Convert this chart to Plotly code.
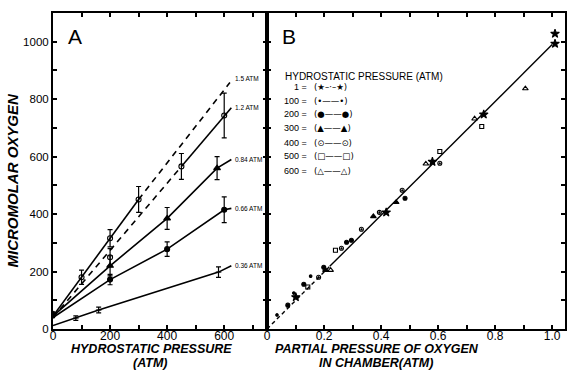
import plotly.graph_objects as go

# ---------------- Panel A data (hydrostatic pressure, atm -> micromolar O2) ----------------
a15_x = [100, 200, 300]; a15_y = [180, 316, 451]; a15_e = [25, 30, 45]
a12_x = [200, 450, 600]; a12_y = [250, 566, 743]; a12_e = [30, 45, 78]
a084_x = [200, 400, 575]; a084_y = [220, 385, 560]; a084_e = [35, 38, 40]
a066_x = [200, 400, 600]; a066_y = [172, 278, 415]; a066_e = [18, 25, 45]
a036_x = [80, 160, 580]; a036_y = [38, 66, 198]; a036_e = [8, 10, 18]
a0_x = [0, 0]; a0_y = [45, 55]

# fitted lines (vertices)
l15s_x = [0, 100, 200, 300]; l15s_y = [45, 180, 316, 451]
l15d_x = [300, 620]; l15d_y = [451, 858]
l12d_x = [0, 450]; l12d_y = [40, 566]
l12s_x = [450, 600, 625]; l12s_y = [566, 743, 770]
l084_x = [0, 200, 400, 575, 625]; l084_y = [45, 220, 385, 560, 590]
l066_x = [0, 200, 400, 600, 625]; l066_y = [40, 172, 278, 415, 420]
l036_x = [0, 80, 160, 580, 625]; l036_y = [12, 38, 66, 198, 220]
line_labels = ["1.5 ATM", "1.2 ATM", "0.84 ATM", "0.66 ATM", "0.36 ATM"]
label_y = [872, 771, 590, 420, 222]

# ---------------- Panel B data (partial pressure O2 in chamber) ----------------
b_star_x = [1.01, 1.01, 0.76, 0.58, 0.418, 0.101]; b_star_y = [1028, 993, 747, 582, 406, 111]
b_dot_x = [0.035, 0.094, 0.153]; b_dot_y = [49, 125, 184]
b_fc_x = [0.073, 0.129, 0.199, 0.279, 0.296, 0.484]; b_fc_y = [83, 156, 215, 302, 309, 455]
b_ft_x = [0.205, 0.373, 0.453]; b_ft_y = [205, 392, 441]
b_oc_x = [0.181, 0.261, 0.331, 0.394, 0.474, 0.606]; b_oc_y = [180, 281, 347, 406, 483, 577]
b_sq_x = [0.143, 0.24, 0.606, 0.753]; b_sq_y = [146, 274, 618, 705]
b_ot_x = [0.223, 0.557, 0.728, 0.906]; b_ot_y = [205, 575, 732, 837]
bl_d_x = [0, 0.22]; bl_d_y = [0, 218]
bl_s_x = [0.22, 1.0]; bl_s_y = [218, 990]

legend_nums = ["1 =", "100 =", "200 =", "300 =", "400 =", "500 =", "600 ="]
legend_syms = ["(★–·–★)", "(•——•)", "(●——●)", "(▲——▲)", "(⊙——⊙)", "(□——□)", "(△——△)"]

K = "black"
fig = go.Figure()

def line(x, y, dash="solid", xa="x", ya="y", w=1.6):
    fig.add_trace(go.Scatter(x=x, y=y, mode="lines", line=dict(color=K, width=w, dash=dash),
                             xaxis=xa, yaxis=ya, showlegend=False, hoverinfo="skip"))

def pts(x, y, sym, size=6, err=None, xa="x", ya="y"):
    kw = {}
    if err is not None:
        kw["error_y"] = dict(type="data", array=err, color=K, thickness=1.2, width=2.5)
    fig.add_trace(go.Scatter(x=x, y=y, mode="markers",
                             marker=dict(symbol=sym, size=size, color=K, line=dict(color=K, width=1.1)),
                             xaxis=xa, yaxis=ya, showlegend=False, **kw))

# Panel A lines
line(l15s_x, l15s_y)
line(l15d_x, l15d_y, dash="6px,5px")
line(l12d_x, l12d_y, dash="6px,5px")
line(l12s_x, l12s_y)
line(l084_x, l084_y)
line(l066_x, l066_y)
line(l036_x, l036_y)
# Panel A points
pts(a15_x, a15_y, "circle-open", 5, a15_e)
pts(a12_x, a12_y, "circle-open", 5, a12_e)
pts(a084_x, a084_y, "triangle-up", 6, a084_e)
pts(a066_x, a066_y, "circle", 5, a066_e)
pts(a036_x, a036_y, "line-ew", 4, a036_e)
pts(a0_x, a0_y, "circle", 4)

# Panel B
line(bl_d_x, bl_d_y, dash="4px,3px", xa="x2", ya="y2", w=1.4)
line(bl_s_x, bl_s_y, xa="x2", ya="y2", w=1.4)
pts(b_star_x, b_star_y, "star", 6.5, xa="x2", ya="y2")
pts(b_dot_x, b_dot_y, "circle", 2.5, xa="x2", ya="y2")
pts(b_fc_x, b_fc_y, "circle", 4, xa="x2", ya="y2")
pts(b_ft_x, b_ft_y, "triangle-up", 5, xa="x2", ya="y2")
pts(b_oc_x, b_oc_y, "circle-open-dot", 4, xa="x2", ya="y2")
pts(b_sq_x, b_sq_y, "square-open", 4, xa="x2", ya="y2")
pts(b_ot_x, b_ot_y, "triangle-up-open", 5, xa="x2", ya="y2")

ytv = list(range(0, 1101, 100))
ytt = [str(v) if v % 200 == 0 and v <= 1000 else "" for v in ytv]
axcommon = dict(showgrid=False, zeroline=False, showline=True, linecolor=K, linewidth=2,
                ticks="inside", ticklen=4, tickwidth=1.5, tickcolor=K, mirror="ticks")
xfont = dict(family="Liberation Sans", size=12, color=K)
yfont = dict(family="Liberation Sans", size=11.5, color=K)

fig.update_layout(
    width=568, height=372, margin=dict(l=53, r=1, t=13, b=43),
    paper_bgcolor="white", plot_bgcolor="white",
    xaxis=dict(domain=[0, 0.418], range=[0, 750], tickmode="array",
               tickvals=list(range(0, 701, 100)), tickfont=xfont, ticklabelstandoff=-5,
               ticktext=["0", "", "200", "", "400", "", "600", ""], **axcommon),
    yaxis=dict(range=[0, 1100], tickmode="array", tickvals=ytv, ticktext=ytt, tickfont=yfont,
               **axcommon),
    xaxis2=dict(domain=[0.418, 1], range=[0, 1.045], anchor="y2", tickmode="array",
                tickvals=[round(0.1 * i, 1) for i in range(11)], tickfont=xfont, ticklabelstandoff=-5,
                ticktext=["0", "", "0.2", "", "0.4", "", "0.6", "", "0.8", "", "1.0"], **axcommon),
    yaxis2=dict(range=[0, 1100], anchor="x2", tickmode="array", tickvals=ytv,
                showticklabels=False, **axcommon),
)

ann = []
# line labels in A
for t, yv in zip(line_labels, label_y):
    ann.append(dict(x=632, y=yv, xref="x", yref="y", text=t, showarrow=False, xanchor="left",
                    font=dict(family="Liberation Sans", size=6.5, color=K)))
# panel letters
ann.append(dict(x=78, y=1017, xref="x", yref="y", text="A", showarrow=False,
                font=dict(family="Liberation Sans", size=21, color=K)))
ann.append(dict(x=0.077, y=1017, xref="x2", yref="y2", text="B", showarrow=False,
                font=dict(family="Liberation Sans", size=21, color=K)))
# legend block in B
ann.append(dict(x=0.055, y=878, xref="x2", yref="y2", text="HYDROSTATIC PRESSURE (ATM)",
                showarrow=False, xanchor="left",
                font=dict(family="Liberation Sans", size=10, color=K)))
row_y = [844, 795, 747, 698, 649, 601, 549]
for n, s, yv in zip(legend_nums, legend_syms, row_y):
    ann.append(dict(x=0.148, y=yv, xref="x2", yref="y2", text=n, showarrow=False, xanchor="right",
                    font=dict(family="Liberation Sans", size=9, color=K)))
    ann.append(dict(x=0.158, y=yv, xref="x2", yref="y2", text=s, showarrow=False, xanchor="left",
                    font=dict(family="DejaVu Sans", size=8.5, color=K)))
# axis titles
tf = dict(family="Liberation Sans", size=12.5, color=K)
ann += [
    dict(x=0.193, y=-0.064, xref="paper", yref="paper", text="<b><i>HYDROSTATIC PRESSURE</i></b>",
         showarrow=False, xanchor="center", yanchor="middle", font=tf),
    dict(x=0.19, y=-0.108, xref="paper", yref="paper", text="<b><i>(ATM)</i></b>",
         showarrow=False, xanchor="center", yanchor="middle", font=tf),
    dict(x=0.632, y=-0.064, xref="paper", yref="paper", text="<b><i>PARTIAL PRESSURE OF OXYGEN</i></b>",
         showarrow=False, xanchor="center", yanchor="middle", font=tf),
    dict(x=0.63, y=-0.108, xref="paper", yref="paper", text="<b><i>IN CHAMBER(ATM)</i></b>",
         showarrow=False, xanchor="center", yanchor="middle", font=tf),
    dict(x=-0.08, y=0.47, xref="paper", yref="paper", text="<b><i>MICROMOLAR OXYGEN</i></b>",
         showarrow=False, textangle=-90, xanchor="center", yanchor="middle",
         font=dict(family="Liberation Sans", size=15, color=K)),
]
fig.update_layout(annotations=ann)

fig.write_html("out.html")
